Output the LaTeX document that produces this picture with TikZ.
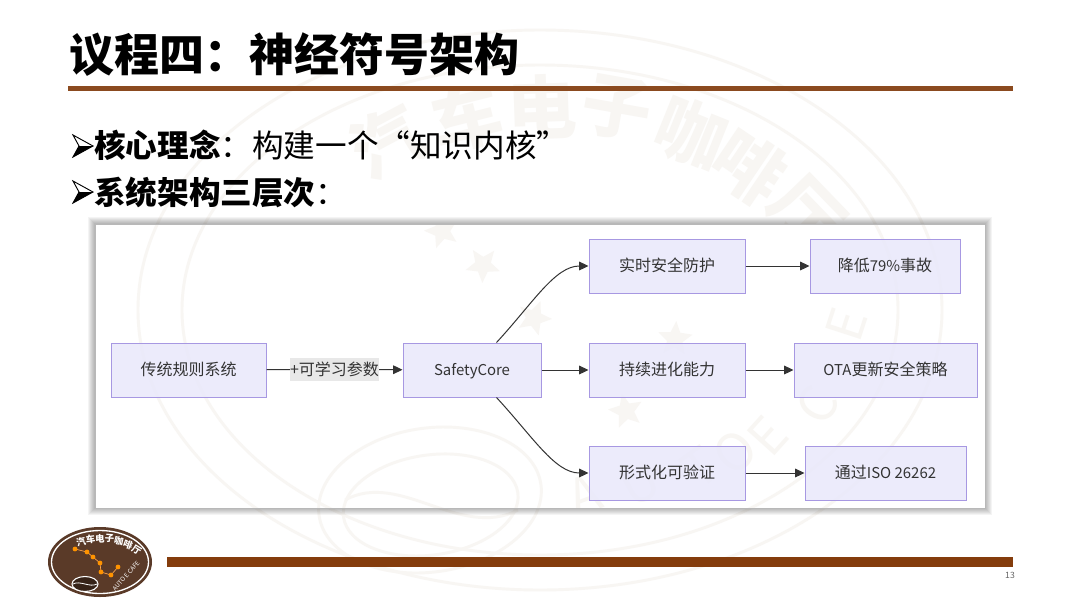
\documentclass[tikz,border=0pt]{standalone}
\usepackage{fontspec}
\setmainfont{Noto Sans CJK SC}
\usetikzlibrary{arrows.meta,calc,shapes.geometric}
\definecolor{rulebrown}{HTML}{8B4A1F}
\definecolor{barbrown}{HTML}{843C0C}
\definecolor{logobrown}{HTML}{5A3A28}
\definecolor{boxfill}{HTML}{E9E8FB}
\definecolor{boxline}{HTML}{A798E2}
\definecolor{ink}{HTML}{333333}
\definecolor{wm}{HTML}{F8F6F3}
\newcommand{\lat}[1]{{\fontsize{11.2}{14}\selectfont #1}}
\tikzset{
  x=0.75pt,y=-0.75pt,
  boxnode/.style={draw=boxline,fill=boxfill,fill opacity=.85,text opacity=1,line width=0.75pt,text=ink,inner sep=0pt,
    minimum height=40.5pt,text height=10.2pt,text depth=1.5pt,font=\fontsize{12}{14}\selectfont},
  link/.style={draw=ink,line width=0.75pt,-{Triangle[length=7pt,width=6.5pt]}},
  plainlink/.style={draw=ink,line width=0.75pt},
  headline/.style={anchor=west,inner sep=0pt,font=\fontsize{33.75}{36}\selectfont\bfseries},
  bodyline/.style={anchor=west,inner sep=0pt,font=\fontsize{23.7}{26}\selectfont},
  wmline/.style={draw=wm,line width=2.2pt,fill=none},
  wmstar/.style={star,star points=5,star point ratio=2.2,fill=wm,draw=none,inner sep=0pt,minimum size=27pt},
  wmword/.style={inner sep=0pt,text=wm,font=\fontsize{52}{56}\selectfont\bfseries},
  wmroman/.style={inner sep=0pt,text=wm,font=\fontsize{38}{40}\selectfont},
  logostar/.style={circle,fill=orange!85!yellow,inner sep=0pt,minimum size=3.6pt},
  logoword/.style={inner sep=0pt,text=white,font=\fontsize{7}{8}\selectfont\bfseries}
}
\newcommand{\wmrings}{%
  \draw[wmline] (540,310) ellipse (402 and 280);
  \draw[wmline] (540,310) ellipse (358 and 245);
  \draw[wmline,rotate around={8:(430,500)}] (430,500) ellipse (112 and 72);
  \draw[wmline,rotate around={8:(430,500)}] (430,505) ellipse (88 and 50);
  \draw[wmline] (345,500) .. controls (400,470) and (460,540) .. (518,510);
}
\newcommand{\bulletmark}[2]{%
  \fill[white,draw=black,line width=0.7pt] (#1,#2-11) -- (#1+20,#2) -- (#1,#2+11) -- (#1+6,#2) -- cycle;
  \fill[black] (#1+6,#2) -- (#1+20,#2) -- (#1,#2+11) -- cycle;
}
\begin{document}
\begin{tikzpicture}
\useasboundingbox (0,0) rectangle (1080,608);
\fill[white] (0,0) rectangle (1080,608);
% watermark above and around the panel
\wmrings
\foreach \c/\px/\py/\r in {汽/387/142/28,车/467/117/14,电/542/107/2,子/617/108/-10,咖/691/133/-22,啡/749/167/-34,厅/806/213/-46}
  \node[wmword,rotate=\r] (wm\c) at (\px,\py) {\c};
% panel shadow and face
\foreach \i in {7,6,5,4,3,2,1}
  \fill[black,opacity=0.045] (95-\i,224-\i) rectangle (985+\i,508+\i);
\fill[white] (95,224) rectangle (985,508);
\begin{scope}
\clip (95,224) rectangle (985,508);
\wmrings
\foreach \n/\px/\py in {1/442/231,2/483/265,3/534/318,4/675/339,5/626/411}
  \node[wmstar,rotate=\n*17] (wmstar\n) at (\px,\py) {};
\foreach \c/\px/\py/\r in {A/585/495/20,U/640/484/28,T/700/468/36,O/735/452/42,E/768/436/48,C/817/405/58,E/846/325/72}
  \node[wmroman,rotate=\r] (wmr\px) at (\px,\py) {\c};
\end{scope}
\draw[black!28,line width=0.75pt] (95,224) rectangle (985,508);
% title
\node[headline] (title) at (69,55) {议程四：神经符号架构};
\fill[rulebrown] (68,86) rectangle (1013,90.5);
% bullets
\bulletmark{73}{146}
\bulletmark{73}{192}
\node[bodyline] (b1) at (94,145.5) {\textbf{核心理念}：构建一个“知识内核”};
\node[bodyline] (b2) at (94,192.5) {\textbf{系统架构三层次}：};
% nodes
\node[boxnode,minimum width=116.25pt] (rule) at (188.5,370) {传统规则系统};
\node[fill=black!9,inner sep=0pt,minimum width=65.25pt,minimum height=17pt,text height=10.2pt,text depth=1.5pt,text=ink,font=\fontsize{12}{14}\selectfont] (param) at (334.5,369.5) {+可学习参数};
\node[boxnode,minimum width=103.5pt] (core) at (472,370) {\lat{SafetyCore}};
\node[boxnode,minimum width=117pt] (rt) at (667,266) {实时安全防护};
\node[boxnode,minimum width=117pt] (evo) at (667,370) {持续进化能力};
\node[boxnode,minimum width=117pt] (formal) at (667,473) {形式化可验证};
\node[boxnode,minimum width=112.5pt] (low) at (885,266) {降低\lat{79\%}事故};
\node[boxnode,minimum width=137.25pt] (ota) at (885.5,370) {\lat{OTA}更新安全策略};
\node[boxnode,minimum width=120.75pt] (iso) at (885.5,473) {通过\lat{ISO 26262}};
% connectors
\draw[plainlink] (rule) -- (param);
\draw[link] (param) -- (core);
\coordinate (coretop) at ($(core.north west)+(94,0)$);
\coordinate (corebot) at ($(core.south west)+(94,0)$);
\draw[link] (coretop) .. controls (533,303) and (555,266) .. (rt.west);
\draw[link] (core) -- (evo);
\draw[link] (corebot) .. controls (533,437) and (555,473) .. (formal.west);
\draw[link] (rt) -- (low);
\draw[link] (evo) -- (ota);
\draw[link] (formal) -- (iso);
% footer bar
\fill[barbrown] (167,557) rectangle (1013,566.5);
\node[inner sep=0pt,text=black!60,font=\fontsize{6.5}{8}\selectfont] (page) at (1010,575.5) {13};
% logo
\fill[logobrown] (100,562) ellipse (52 and 35);
\draw[white,line width=1pt] (100,562) ellipse (48.5 and 31.5);
\foreach \c/\px/\py/\r in {汽/81/542/14,车/90.5/539.5/8,电/100/538.5/2,子/109.5/538.5/-4,咖/119/541/-12,啡/128/544.5/-20,厅/136.5/550/-32}
  \node[logoword,rotate=\r] (logo\c) at (\px,\py) {\c};
\node[inner sep=0pt,text=white,rotate=48,font=\fontsize{4.6}{5}\selectfont] (cafe) at (126,576) {AUTO E CAFE};
\coordinate (s1) at (75,549);\coordinate (s2) at (87,552);\coordinate (s3) at (93,557);
\coordinate (s4) at (100,563);\coordinate (s5) at (101,572);\coordinate (s6) at (111,575);\coordinate (s7) at (118,567);
\draw[orange!70!white,line width=0.5pt] (s1)--(s2)--(s3)--(s4)--(s5)--(s6)--(s7);
\foreach \s in {s1,s2,s3,s4,s5,s6,s7} \node[logostar] (n\s) at (\s) {};
\fill[logobrown!60!black] (85,584) ellipse (13 and 7.5);
\draw[white,line width=0.8pt] (85,584) ellipse (13 and 7.5);
\draw[white,line width=0.6pt] (73,584) .. controls (80,580) and (90,588) .. (97,584);
\end{tikzpicture}
\end{document}
